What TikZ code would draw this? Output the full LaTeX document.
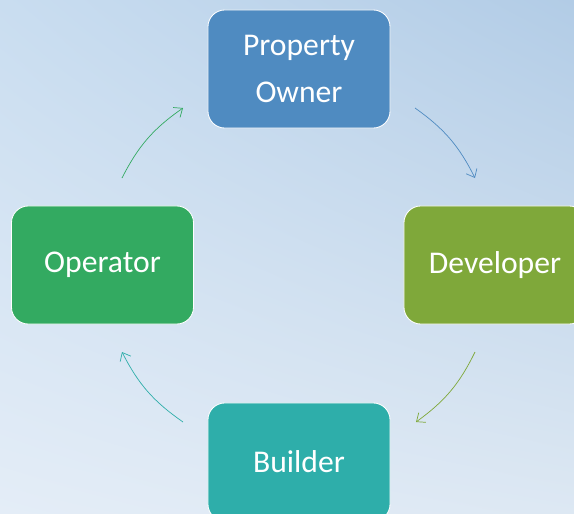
\documentclass[tikz,border=0pt]{standalone}
\usepackage{fontspec}
\setmainfont{Carlito}
\usetikzlibrary{arrows.meta,shadings}

\definecolor{ownerblue}{RGB}{79,139,193}
\definecolor{devgreen}{RGB}{127,168,58}
\definecolor{buildteal}{RGB}{46,174,170}
\definecolor{opgreen}{RGB}{51,170,97}
\definecolor{bgul}{RGB}{201,221,240}
\definecolor{bgur}{RGB}{178,204,230}
\definecolor{bgll}{RGB}{228,237,247}
\definecolor{bglr}{RGB}{221,232,243}

\begin{document}
\begin{tikzpicture}[x=0.025cm, y=-0.025cm,
    stage/.style={rectangle, rounded corners=0.42cm, draw=white, line width=0.6pt,
      minimum width=4.55cm, minimum height=2.95cm, inner sep=0pt,
      text=white, align=center, font=\fontsize{22.5}{34}\selectfont},
    flow/.style={-{Straight Barb[length=1.8mm, width=3mm]}, line width=0.5pt, bend left=14}]
  % background
  \shade[upper left=bgul, upper right=bgur, lower left=bgll, lower right=bglr]
    (0,0) rectangle (574,514);
  \useasboundingbox (0,0) rectangle (574,514);
  \clip (0,0) rectangle (574,514);

  % the four stages
  \node[stage, fill=ownerblue] (owner) at (299,69) {Property\\Owner};
  \node[stage, fill=devgreen] (developer) at (495,265) {Developer};
  \node[stage, fill=buildteal] (builder) at (299,462) {Builder};
  \node[stage, fill=opgreen] (operator) at (102.5,265) {Operator};

  % arrow ends
  \coordinate (owner-out) at (415,108);
  \coordinate (dev-in) at (475,178);
  \coordinate (dev-out) at (475,352);
  \coordinate (build-in) at (416,422);
  \coordinate (build-out) at (183,422);
  \coordinate (op-in) at (122,352);
  \coordinate (op-out) at (122,178);
  \coordinate (owner-in) at (183,108);

  \draw[flow, ownerblue] (owner-out) to (dev-in);
  \draw[flow, devgreen] (dev-out) to (build-in);
  \draw[flow, buildteal] (build-out) to (op-in);
  \draw[flow, opgreen] (op-out) to (owner-in);
\end{tikzpicture}
\end{document}
